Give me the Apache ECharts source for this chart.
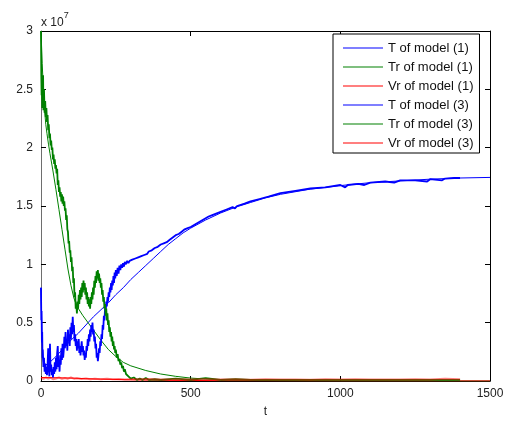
<!DOCTYPE html>
<html>
<head>
<meta charset="utf-8">
<script src="https://cdn.jsdelivr.net/npm/echarts@6/dist/echarts.min.js"></script>
<style>
  html, body { margin: 0; padding: 0; background: #fff; }
  #chart { width: 507px; height: 423px; }
</style>
</head>
<body>
<div id="chart"></div>
<script>
// Values are in units of 10^7 (see the axis multiplier text).

// ---- Deterministic model (1) ----
const tModel1 = [0, 3, 6, 10, 15, 25, 50, 75, 100, 125, 150, 175, 200, 225, 250, 275, 300, 325, 350, 375, 400, 425, 450, 475, 500, 550, 600, 650, 700, 750, 800, 900, 1000, 1100, 1200, 1300, 1400, 1500];
const T1 = [0.80, 0.40, 0.20, 0.13, 0.13, 0.15, 0.21, 0.28, 0.35, 0.41, 0.48, 0.55, 0.61, 0.67, 0.74, 0.80, 0.87, 0.93, 0.99, 1.05, 1.11, 1.17, 1.22, 1.27, 1.31, 1.38, 1.44, 1.49, 1.53, 1.57, 1.60, 1.645, 1.675, 1.70, 1.715, 1.73, 1.74, 1.745];

const tTr1 = [0, 4, 8, 12, 16, 20, 25, 30, 40, 50, 60, 70, 80, 90, 100, 110, 120, 140, 160, 180, 200, 225, 250, 275, 300, 350, 400, 450, 500, 550, 600, 700, 800, 1000, 1500];
const Tr1 = [3.00, 2.72, 2.50, 2.32, 2.20, 2.12, 2.03, 1.95, 1.80, 1.64, 1.47, 1.30, 1.13, 0.96, 0.82, 0.71, 0.64, 0.56, 0.49, 0.42, 0.35, 0.27, 0.21, 0.16, 0.13, 0.09, 0.06, 0.04, 0.025, 0.017, 0.012, 0.006, 0.003, 0.001, 0.0];

const tVr1 = [0, 50, 100, 150, 200, 300, 400, 600, 1000, 1500];
const Vr1 = [0.030, 0.028, 0.025, 0.020, 0.016, 0.010, 0.006, 0.003, 0.001, 0.0005];

// ---- Stochastic model (3) ----
const tT3 = [0, 1, 2, 3, 4, 5, 6, 8, 10, 12, 14, 16, 18, 20, 22, 24, 26, 28, 30, 32, 34, 36, 38, 40, 42, 44, 46, 48, 50, 52, 54, 56, 58, 60, 62, 64, 66, 68, 70, 72, 74, 76, 78, 80, 82, 84, 86, 88, 90, 92, 94, 96, 98, 100, 102, 104, 106, 108, 110, 112, 114, 116, 118, 120, 122, 124, 126, 128, 130, 132, 134, 136, 138, 140, 142, 144, 146, 148, 150, 152, 154, 156, 158, 160, 162, 164, 166, 168, 170, 172, 174, 176, 178, 180, 182, 184, 186, 188, 190, 192, 194, 196, 198, 200, 202, 204, 206, 208, 210, 212, 214, 216, 218, 220, 222, 224, 226, 228, 230, 232, 234, 236, 238, 240, 242, 244, 246, 248, 250, 253, 256, 259, 262, 265, 268, 271, 274, 277, 280, 284, 288, 292, 296, 300, 305, 310, 315, 320, 325, 330, 335, 340, 345, 350, 355, 360, 365, 370, 375, 380, 385, 390, 395, 400, 410, 420, 430, 440, 450, 460, 470, 480, 490, 500, 520, 540, 560, 565, 570, 600, 620, 640, 648, 655, 680, 700, 730, 760, 800, 850, 900, 950, 1000, 1016, 1025, 1060, 1080, 1100, 1150, 1180, 1200, 1250, 1290, 1300, 1340, 1350, 1380, 1400];
const T3 = [0.80, 0.52, 0.60, 0.33, 0.42, 0.20, 0.27, 0.12, 0.20, 0.08, 0.15, 0.06, 0.12, 0.05, 0.14, 0.28, 0.10, 0.04, 0.32, 0.08, 0.14, 0.05, 0.10, 0.03, 0.12, 0.06, 0.16, 0.08, 0.20, 0.10, 0.24, 0.30, 0.12, 0.18, 0.08, 0.22, 0.14, 0.28, 0.18, 0.32, 0.20, 0.26, 0.38, 0.28, 0.42, 0.30, 0.36, 0.26, 0.44, 0.34, 0.40, 0.30, 0.46, 0.36, 0.50, 0.40, 0.55, 0.42, 0.48, 0.34, 0.40, 0.30, 0.36, 0.26, 0.34, 0.28, 0.36, 0.24, 0.30, 0.22, 0.28, 0.34, 0.25, 0.30, 0.22, 0.26, 0.18, 0.24, 0.20, 0.30, 0.26, 0.36, 0.30, 0.40, 0.34, 0.44, 0.38, 0.48, 0.42, 0.50, 0.40, 0.44, 0.34, 0.38, 0.28, 0.32, 0.20, 0.24, 0.17, 0.22, 0.28, 0.24, 0.34, 0.30, 0.40, 0.36, 0.48, 0.44, 0.56, 0.52, 0.62, 0.58, 0.68, 0.64, 0.72, 0.68, 0.76, 0.72, 0.80, 0.76, 0.84, 0.78, 0.86, 0.82, 0.90, 0.84, 0.93, 0.88, 0.95, 0.90, 0.97, 0.92, 0.99, 0.95, 1.00, 0.97, 1.01, 0.98, 1.02, 1.00, 1.03, 1.01, 1.03, 1.02, 1.04, 1.03, 1.05, 1.04, 1.06, 1.05, 1.07, 1.07, 1.08, 1.09, 1.09, 1.11, 1.11, 1.12, 1.13, 1.14, 1.14, 1.15, 1.16, 1.17, 1.18, 1.19, 1.21, 1.23, 1.25, 1.26, 1.28, 1.30, 1.31, 1.32, 1.35, 1.38, 1.41, 1.40, 1.42, 1.45, 1.47, 1.49, 1.48, 1.50, 1.52, 1.54, 1.56, 1.58, 1.61, 1.63, 1.65, 1.66, 1.68, 1.66, 1.68, 1.69, 1.68, 1.70, 1.71, 1.70, 1.72, 1.72, 1.71, 1.73, 1.72, 1.735, 1.74, 1.74];

const tTr3 = [0, 1, 2, 3, 4, 5, 6, 7, 8, 10, 12, 14, 16, 18, 20, 22, 24, 26, 28, 30, 32, 34, 36, 38, 40, 42, 44, 46, 48, 50, 52, 54, 56, 58, 60, 62, 64, 66, 68, 70, 72, 74, 76, 78, 80, 82, 84, 86, 88, 90, 92, 94, 96, 98, 100, 102, 104, 106, 108, 110, 112, 114, 116, 118, 120, 122, 124, 126, 128, 130, 132, 134, 136, 138, 140, 142, 144, 146, 148, 150, 152, 154, 156, 158, 160, 162, 164, 166, 168, 170, 172, 174, 176, 178, 180, 182, 184, 186, 188, 190, 192, 194, 196, 198, 200, 202, 204, 206, 208, 210, 212, 214, 216, 218, 220, 222, 224, 226, 228, 230, 232, 234, 236, 238, 240, 242, 244, 246, 248, 250, 253, 256, 259, 262, 265, 268, 271, 274, 277, 280, 284, 288, 292, 296, 300, 310, 320, 330, 340, 350, 360, 380, 400, 450, 500, 550, 600, 650, 700, 800, 900, 1000, 1100, 1200, 1300, 1400];
const Tr3 = [3.00, 2.62, 2.45, 2.60, 2.34, 2.55, 2.40, 2.62, 2.32, 2.50, 2.30, 2.40, 2.26, 2.34, 2.22, 2.28, 2.15, 2.20, 2.08, 2.12, 2.02, 2.06, 1.98, 2.00, 1.90, 1.94, 1.86, 1.90, 1.82, 1.85, 1.78, 1.82, 1.68, 1.72, 1.62, 1.66, 1.58, 1.62, 1.54, 1.60, 1.52, 1.58, 1.50, 1.54, 1.46, 1.48, 1.38, 1.42, 1.30, 1.28, 1.18, 1.20, 1.10, 1.12, 1.02, 1.06, 0.94, 0.98, 0.84, 0.88, 0.72, 0.76, 0.62, 0.66, 0.58, 0.68, 0.62, 0.74, 0.66, 0.78, 0.70, 0.80, 0.72, 0.84, 0.76, 0.86, 0.78, 0.84, 0.74, 0.80, 0.70, 0.76, 0.66, 0.72, 0.64, 0.70, 0.62, 0.72, 0.66, 0.76, 0.70, 0.80, 0.74, 0.86, 0.80, 0.90, 0.84, 0.94, 0.88, 0.95, 0.86, 0.92, 0.84, 0.88, 0.80, 0.84, 0.74, 0.78, 0.68, 0.72, 0.62, 0.66, 0.56, 0.62, 0.52, 0.58, 0.48, 0.52, 0.42, 0.46, 0.38, 0.42, 0.34, 0.38, 0.30, 0.34, 0.27, 0.30, 0.24, 0.27, 0.20, 0.23, 0.17, 0.19, 0.14, 0.16, 0.11, 0.13, 0.08, 0.10, 0.06, 0.07, 0.04, 0.05, 0.02, 0.03, 0.01, 0.02, 0.01, 0.025, 0.01, 0.015, 0.01, 0.02, 0.01, 0.025, 0.01, 0.015, 0.01, 0.01, 0.01, 0.01, 0.01, 0.01, 0.01, 0.01];

const tVr3 = [0, 8, 16, 24, 32, 40, 50, 60, 70, 80, 90, 100, 110, 120, 135, 150, 165, 180, 200, 220, 240, 260, 280, 300, 330, 360, 400, 450, 500, 550, 600, 650, 700, 750, 800, 850, 900, 950, 1000, 1050, 1100, 1150, 1200, 1250, 1300, 1350, 1400];
const Vr3 = [0.025, 0.018, 0.030, 0.020, 0.028, 0.015, 0.022, 0.030, 0.018, 0.025, 0.020, 0.030, 0.020, 0.024, 0.018, 0.022, 0.015, 0.020, 0.016, 0.020, 0.014, 0.018, 0.012, 0.016, 0.014, 0.018, 0.012, 0.015, 0.012, 0.016, 0.012, 0.014, 0.010, 0.014, 0.012, 0.013, 0.010, 0.014, 0.012, 0.015, 0.012, 0.013, 0.012, 0.014, 0.012, 0.020, 0.015];

// Axis ticks
const xTicks = { min: 0, max: 1500, step: 500 };
const yTicks = { min: 0, max: 3, step: 0.5 };

const names = ['T of model (1)', 'Tr of model (1)', 'Vr of model (1)', 'T of model (3)', 'Tr of model (3)', 'Vr of model (3)'];
const BLUE = '#0000ff', GREEN = '#008000', RED = '#ff0000';

function zip(ts, vs) { return ts.map((t, i) => [t, vs[i]]); }

function lineSeries(name, ts, vs, color, width, opacity) {
  return {
    name: name,
    type: 'line',
    data: zip(ts, vs),
    showSymbol: false,
    symbol: 'none',
    smooth: false,
    animation: false,
    itemStyle: { color: color },
    lineStyle: { color: color, width: width, opacity: opacity == null ? 1 : opacity },
    emphasis: { disabled: true }
  };
}

const FONT = '"Liberation Sans", Arial, sans-serif';

const chart = echarts.init(document.getElementById('chart'), null, { renderer: 'canvas' });
chart.setOption({
  backgroundColor: '#fff',
  animation: false,
  grid: { left: 41, right: 17, top: 31, bottom: 38, containLabel: false },
  graphic: [{
    type: 'text',
    left: 41,
    top: 11,
    style: {
      text: '{a|x 10}{b|7}',
      rich: {
        a: { fontSize: 12, fontFamily: FONT, fill: '#222', verticalAlign: 'bottom', padding: [6, 0, 0, 0] },
        b: { fontSize: 9, fontFamily: FONT, fill: '#222', verticalAlign: 'top' }
      }
    }
  }],
  legend: {
    orient: 'vertical',
    left: 333,
    top: 34,
    data: names.map((n, i) => ({ name: n, itemStyle: { color: [BLUE, GREEN, RED][i % 3], opacity: 1 } })),
    icon: 'rect',
    itemWidth: 40,
    itemHeight: 1,
    itemGap: 5,
    padding: [7, 6, 3, 10],
    backgroundColor: '#fff',
    borderColor: '#000',
    borderWidth: 1,
    borderRadius: 0,
    selectedMode: false,
    textStyle: { fontSize: 13, fontFamily: FONT, color: '#111', lineHeight: 14 }
  },
  xAxis: [{
    type: 'value',
    position: 'bottom',
    min: xTicks.min, max: xTicks.max, interval: xTicks.step,
    name: 't',
    nameLocation: 'middle',
    nameGap: 25,
    nameTextStyle: { fontSize: 12, fontFamily: FONT, color: '#222' },
    axisLine: { show: true, onZero: false, lineStyle: { color: '#000', width: 1 } },
    axisTick: { show: true, inside: true, length: 5, lineStyle: { color: '#000' } },
    axisLabel: { fontSize: 12, fontFamily: FONT, color: '#222', margin: 7, formatter: v => String(v) },
    splitLine: { show: false }
  }, {
    type: 'value',
    position: 'top',
    min: xTicks.min, max: xTicks.max, interval: xTicks.step,
    axisLine: { show: true, onZero: false, lineStyle: { color: '#000', width: 1 } },
    axisTick: { show: true, inside: true, length: 5, lineStyle: { color: '#000' } },
    axisLabel: { show: false },
    splitLine: { show: false }
  }],
  yAxis: [{
    type: 'value',
    position: 'left',
    min: yTicks.min, max: yTicks.max, interval: yTicks.step,
    axisLine: { show: true, onZero: false, lineStyle: { color: '#6e6e6e', width: 1 } },
    axisTick: { show: true, inside: true, length: 5, lineStyle: { color: '#000' } },
    axisLabel: { fontSize: 12, fontFamily: FONT, color: '#222', margin: 8, formatter: v => String(v) },
    splitLine: { show: false }
  }, {
    type: 'value',
    position: 'right',
    min: yTicks.min, max: yTicks.max, interval: yTicks.step,
    axisLine: { show: true, onZero: false, lineStyle: { color: '#000', width: 1 } },
    axisTick: { show: true, inside: true, length: 5, lineStyle: { color: '#000' } },
    axisLabel: { show: false },
    splitLine: { show: false }
  }],
  series: [
    lineSeries(names[0], tModel1, T1, BLUE, 1),
    lineSeries(names[1], tTr1, Tr1, GREEN, 1),
    lineSeries(names[2], tVr1, Vr1, RED, 1),
    lineSeries(names[3], tT3, T3, BLUE, 1.8),
    lineSeries(names[4], tTr3, Tr3, GREEN, 1.8),
    lineSeries(names[5], tVr3, Vr3, RED, 2, 0.5)
  ]
});
</script>
</body>
</html>
